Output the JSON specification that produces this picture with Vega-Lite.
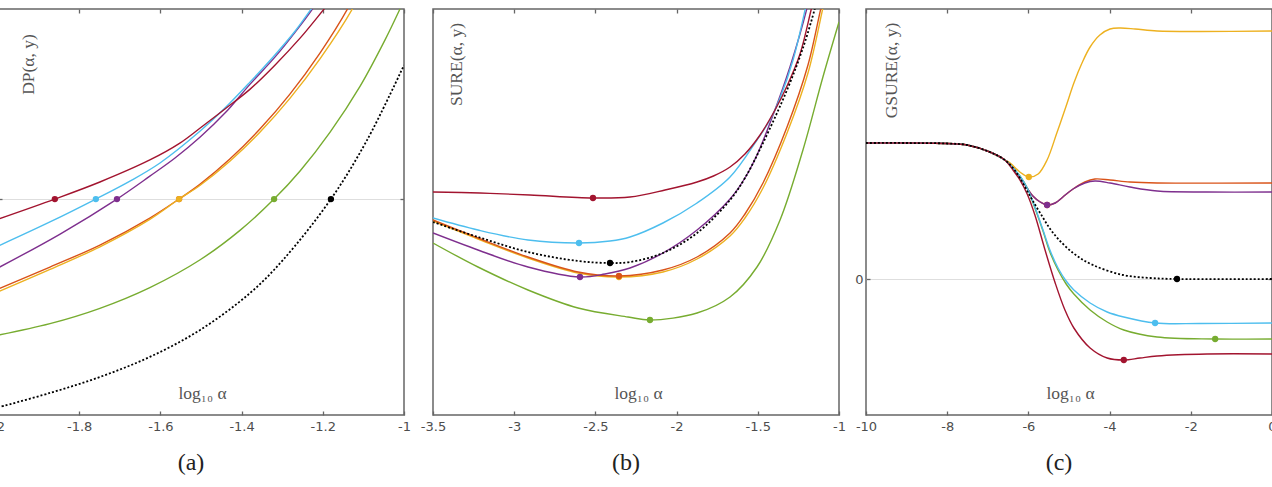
{
  "$schema": "https://vega.github.io/schema/vega-lite/v6.json",
  "autosize": {"type": "none"},
  "padding": {"left": -2, "top": 9, "right": 1274, "bottom": 478},
  "background": "white",
  "bounds": "flush",
  "spacing": 29,
  "config": {
    "view": {"stroke": "#666666", "strokeWidth": 1.5},
    "axis": {
      "domain": false,
      "grid": false,
      "tickSize": -4,
      "tickColor": "#666666",
      "tickWidth": 1.3,
      "labelFont": "DejaVu Sans",
      "labelFontSize": 13,
      "labelColor": "#4d4d4d",
      "labelPadding": 9,
      "labelFlush": false,
      "titleFont": "Liberation Serif",
      "titleFontSize": 17.5,
      "titleFontWeight": "normal",
      "titleColor": "#555555",
      "gridColor": "#dedede",
      "gridWidth": 1.2
    }
  },
  "datasets": {
    "dp": [
      {"curve": "m6", "log_alpha": -2.0, "value": 0.37},
      {"curve": "m6", "log_alpha": -1.872, "value": 0.423},
      {"curve": "m6", "log_alpha": -1.749, "value": 0.494},
      {"curve": "m6", "log_alpha": -1.626, "value": 0.59},
      {"curve": "m6", "log_alpha": -1.502, "value": 0.719},
      {"curve": "m6", "log_alpha": -1.404, "value": 0.855},
      {"curve": "m6", "log_alpha": -1.32, "value": 1.0},
      {"curve": "m6", "log_alpha": -1.256, "value": 1.13},
      {"curve": "m6", "log_alpha": -1.182, "value": 1.31},
      {"curve": "m6", "log_alpha": -1.108, "value": 1.523},
      {"curve": "m6", "log_alpha": -1.047, "value": 1.736},
      {"curve": "m6", "log_alpha": -1.01, "value": 1.88},
      {"curve": "m6", "log_alpha": -1.0, "value": 1.921},
      {"curve": "m4", "log_alpha": -2.0, "value": 0.583},
      {"curve": "m4", "log_alpha": -1.872, "value": 0.685},
      {"curve": "m4", "log_alpha": -1.749, "value": 0.787},
      {"curve": "m4", "log_alpha": -1.626, "value": 0.912},
      {"curve": "m4", "log_alpha": -1.554, "value": 1.0},
      {"curve": "m4", "log_alpha": -1.502, "value": 1.069},
      {"curve": "m4", "log_alpha": -1.429, "value": 1.185},
      {"curve": "m4", "log_alpha": -1.355, "value": 1.324},
      {"curve": "m4", "log_alpha": -1.281, "value": 1.486},
      {"curve": "m4", "log_alpha": -1.207, "value": 1.676},
      {"curve": "m4", "log_alpha": -1.138, "value": 1.884},
      {"curve": "m4", "log_alpha": -1.118, "value": 1.96},
      {"curve": "m5", "log_alpha": -2.0, "value": 0.57},
      {"curve": "m5", "log_alpha": -1.872, "value": 0.674},
      {"curve": "m5", "log_alpha": -1.749, "value": 0.779},
      {"curve": "m5", "log_alpha": -1.626, "value": 0.906},
      {"curve": "m5", "log_alpha": -1.554, "value": 1.0},
      {"curve": "m5", "log_alpha": -1.502, "value": 1.064},
      {"curve": "m5", "log_alpha": -1.429, "value": 1.175},
      {"curve": "m5", "log_alpha": -1.355, "value": 1.309},
      {"curve": "m5", "log_alpha": -1.281, "value": 1.466},
      {"curve": "m5", "log_alpha": -1.207, "value": 1.649},
      {"curve": "m5", "log_alpha": -1.126, "value": 1.884},
      {"curve": "m5", "log_alpha": -1.106, "value": 1.96},
      {"curve": "m3", "log_alpha": -2.0, "value": 0.681},
      {"curve": "m3", "log_alpha": -1.847, "value": 0.838},
      {"curve": "m3", "log_alpha": -1.707, "value": 1.0},
      {"curve": "m3", "log_alpha": -1.626, "value": 1.106},
      {"curve": "m3", "log_alpha": -1.564, "value": 1.19},
      {"curve": "m3", "log_alpha": -1.502, "value": 1.287},
      {"curve": "m3", "log_alpha": -1.441, "value": 1.398},
      {"curve": "m3", "log_alpha": -1.379, "value": 1.532},
      {"curve": "m3", "log_alpha": -1.318, "value": 1.657},
      {"curve": "m3", "log_alpha": -1.268, "value": 1.773},
      {"curve": "m3", "log_alpha": -1.224, "value": 1.884},
      {"curve": "m3", "log_alpha": -1.199, "value": 1.96},
      {"curve": "m2", "log_alpha": -2.0, "value": 0.782},
      {"curve": "m2", "log_alpha": -1.872, "value": 0.894},
      {"curve": "m2", "log_alpha": -1.759, "value": 1.0},
      {"curve": "m2", "log_alpha": -1.675, "value": 1.083},
      {"curve": "m2", "log_alpha": -1.601, "value": 1.167},
      {"curve": "m2", "log_alpha": -1.502, "value": 1.315},
      {"curve": "m2", "log_alpha": -1.441, "value": 1.421},
      {"curve": "m2", "log_alpha": -1.379, "value": 1.542},
      {"curve": "m2", "log_alpha": -1.318, "value": 1.667},
      {"curve": "m2", "log_alpha": -1.268, "value": 1.778},
      {"curve": "m2", "log_alpha": -1.227, "value": 1.884},
      {"curve": "m2", "log_alpha": -1.202, "value": 1.95},
      {"curve": "m1", "log_alpha": -2.0, "value": 0.907},
      {"curve": "m1", "log_alpha": -1.86, "value": 1.0},
      {"curve": "m1", "log_alpha": -1.749, "value": 1.079},
      {"curve": "m1", "log_alpha": -1.626, "value": 1.181},
      {"curve": "m1", "log_alpha": -1.552, "value": 1.259},
      {"curve": "m1", "log_alpha": -1.502, "value": 1.329},
      {"curve": "m1", "log_alpha": -1.441, "value": 1.417},
      {"curve": "m1", "log_alpha": -1.379, "value": 1.509},
      {"curve": "m1", "log_alpha": -1.318, "value": 1.62},
      {"curve": "m1", "log_alpha": -1.256, "value": 1.745},
      {"curve": "m1", "log_alpha": -1.195, "value": 1.884},
      {"curve": "m1", "log_alpha": -1.17, "value": 1.94},
      {"curve": "ref", "log_alpha": -2.0, "value": 0.035},
      {"curve": "ref", "log_alpha": -1.872, "value": 0.102},
      {"curve": "ref", "log_alpha": -1.749, "value": 0.176},
      {"curve": "ref", "log_alpha": -1.626, "value": 0.269},
      {"curve": "ref", "log_alpha": -1.502, "value": 0.394},
      {"curve": "ref", "log_alpha": -1.379, "value": 0.565},
      {"curve": "ref", "log_alpha": -1.298, "value": 0.718},
      {"curve": "ref", "log_alpha": -1.18, "value": 1.0},
      {"curve": "ref", "log_alpha": -1.091, "value": 1.273},
      {"curve": "ref", "log_alpha": -1.0, "value": 1.62}
    ],
    "dpOpt": [
      {"curve": "m6", "log_alpha": -1.32, "value": 1.0},
      {"curve": "m4", "log_alpha": -1.554, "value": 1.0},
      {"curve": "m5", "log_alpha": -1.554, "value": 1.0},
      {"curve": "m3", "log_alpha": -1.707, "value": 1.0},
      {"curve": "m2", "log_alpha": -1.759, "value": 1.0},
      {"curve": "m1", "log_alpha": -1.86, "value": 1.0},
      {"curve": "ref", "log_alpha": -1.18, "value": 1.0}
    ],
    "sure": [
      {"curve": "m6", "log_alpha": -3.5, "value": 1.72},
      {"curve": "m6", "log_alpha": -3.223, "value": 1.48},
      {"curve": "m6", "log_alpha": -2.915, "value": 1.25},
      {"curve": "m6", "log_alpha": -2.607, "value": 1.07},
      {"curve": "m6", "log_alpha": -2.299, "value": 0.98},
      {"curve": "m6", "log_alpha": -2.164, "value": 0.95},
      {"curve": "m6", "log_alpha": -1.874, "value": 1.02},
      {"curve": "m6", "log_alpha": -1.671, "value": 1.18},
      {"curve": "m6", "log_alpha": -1.505, "value": 1.48},
      {"curve": "m6", "log_alpha": -1.363, "value": 1.95},
      {"curve": "m6", "log_alpha": -1.222, "value": 2.65},
      {"curve": "m6", "log_alpha": -1.099, "value": 3.38},
      {"curve": "m6", "log_alpha": -1.0, "value": 3.93},
      {"curve": "m5", "log_alpha": -3.5, "value": 1.94},
      {"curve": "m5", "log_alpha": -3.223, "value": 1.76},
      {"curve": "m5", "log_alpha": -2.915, "value": 1.57},
      {"curve": "m5", "log_alpha": -2.607, "value": 1.42},
      {"curve": "m5", "log_alpha": -2.355, "value": 1.38},
      {"curve": "m5", "log_alpha": -2.084, "value": 1.43},
      {"curve": "m5", "log_alpha": -1.874, "value": 1.56},
      {"curve": "m5", "log_alpha": -1.671, "value": 1.79},
      {"curve": "m5", "log_alpha": -1.579, "value": 1.97},
      {"curve": "m5", "log_alpha": -1.468, "value": 2.27},
      {"curve": "m5", "log_alpha": -1.32, "value": 2.82},
      {"curve": "m5", "log_alpha": -1.191, "value": 3.42},
      {"curve": "m5", "log_alpha": -1.099, "value": 4.07},
      {"curve": "m5", "log_alpha": -1.08, "value": 4.2},
      {"curve": "m4", "log_alpha": -3.5, "value": 1.95},
      {"curve": "m4", "log_alpha": -3.223, "value": 1.77},
      {"curve": "m4", "log_alpha": -2.915, "value": 1.58},
      {"curve": "m4", "log_alpha": -2.607, "value": 1.43},
      {"curve": "m4", "log_alpha": -2.355, "value": 1.39},
      {"curve": "m4", "log_alpha": -2.084, "value": 1.45},
      {"curve": "m4", "log_alpha": -1.874, "value": 1.58},
      {"curve": "m4", "log_alpha": -1.671, "value": 1.82},
      {"curve": "m4", "log_alpha": -1.579, "value": 2.01},
      {"curve": "m4", "log_alpha": -1.468, "value": 2.32},
      {"curve": "m4", "log_alpha": -1.32, "value": 2.88},
      {"curve": "m4", "log_alpha": -1.191, "value": 3.5},
      {"curve": "m4", "log_alpha": -1.111, "value": 4.07},
      {"curve": "m4", "log_alpha": -1.09, "value": 4.2},
      {"curve": "m3", "log_alpha": -3.5, "value": 1.82},
      {"curve": "m3", "log_alpha": -3.223, "value": 1.65},
      {"curve": "m3", "log_alpha": -2.915, "value": 1.48},
      {"curve": "m3", "log_alpha": -2.595, "value": 1.38},
      {"curve": "m3", "log_alpha": -2.441, "value": 1.41},
      {"curve": "m3", "log_alpha": -2.287, "value": 1.47},
      {"curve": "m3", "log_alpha": -2.084, "value": 1.62},
      {"curve": "m3", "log_alpha": -1.874, "value": 1.85},
      {"curve": "m3", "log_alpha": -1.671, "value": 2.16},
      {"curve": "m3", "log_alpha": -1.579, "value": 2.37},
      {"curve": "m3", "log_alpha": -1.505, "value": 2.6},
      {"curve": "m3", "log_alpha": -1.406, "value": 3.0},
      {"curve": "m3", "log_alpha": -1.302, "value": 3.48},
      {"curve": "m3", "log_alpha": -1.197, "value": 4.07},
      {"curve": "m3", "log_alpha": -1.18, "value": 4.2},
      {"curve": "m2", "log_alpha": -3.5, "value": 1.97},
      {"curve": "m2", "log_alpha": -3.223, "value": 1.85},
      {"curve": "m2", "log_alpha": -2.915, "value": 1.75},
      {"curve": "m2", "log_alpha": -2.601, "value": 1.72},
      {"curve": "m2", "log_alpha": -2.41, "value": 1.74},
      {"curve": "m2", "log_alpha": -2.287, "value": 1.78},
      {"curve": "m2", "log_alpha": -2.084, "value": 1.92},
      {"curve": "m2", "log_alpha": -1.874, "value": 2.12},
      {"curve": "m2", "log_alpha": -1.671, "value": 2.38},
      {"curve": "m2", "log_alpha": -1.505, "value": 2.75},
      {"curve": "m2", "log_alpha": -1.425, "value": 2.95},
      {"curve": "m2", "log_alpha": -1.363, "value": 3.17},
      {"curve": "m2", "log_alpha": -1.283, "value": 3.55},
      {"curve": "m2", "log_alpha": -1.209, "value": 4.05},
      {"curve": "m2", "log_alpha": -1.19, "value": 4.2},
      {"curve": "m1", "log_alpha": -3.5, "value": 2.23},
      {"curve": "m1", "log_alpha": -3.211, "value": 2.22},
      {"curve": "m1", "log_alpha": -2.903, "value": 2.2},
      {"curve": "m1", "log_alpha": -2.515, "value": 2.17},
      {"curve": "m1", "log_alpha": -2.287, "value": 2.18},
      {"curve": "m1", "log_alpha": -2.071, "value": 2.25},
      {"curve": "m1", "log_alpha": -1.874, "value": 2.33},
      {"curve": "m1", "log_alpha": -1.773, "value": 2.39},
      {"curve": "m1", "log_alpha": -1.671, "value": 2.48},
      {"curve": "m1", "log_alpha": -1.579, "value": 2.61},
      {"curve": "m1", "log_alpha": -1.486, "value": 2.8},
      {"curve": "m1", "log_alpha": -1.394, "value": 3.05},
      {"curve": "m1", "log_alpha": -1.32, "value": 3.29},
      {"curve": "m1", "log_alpha": -1.24, "value": 3.61},
      {"curve": "m1", "log_alpha": -1.172, "value": 4.05},
      {"curve": "m1", "log_alpha": -1.15, "value": 4.2},
      {"curve": "ref", "log_alpha": -3.5, "value": 1.93},
      {"curve": "ref", "log_alpha": -3.223, "value": 1.78},
      {"curve": "ref", "log_alpha": -2.915, "value": 1.63},
      {"curve": "ref", "log_alpha": -2.607, "value": 1.54},
      {"curve": "ref", "log_alpha": -2.41, "value": 1.52},
      {"curve": "ref", "log_alpha": -2.287, "value": 1.53},
      {"curve": "ref", "log_alpha": -2.084, "value": 1.62},
      {"curve": "ref", "log_alpha": -1.874, "value": 1.82},
      {"curve": "ref", "log_alpha": -1.671, "value": 2.15},
      {"curve": "ref", "log_alpha": -1.579, "value": 2.37},
      {"curve": "ref", "log_alpha": -1.468, "value": 2.72},
      {"curve": "ref", "log_alpha": -1.32, "value": 3.25},
      {"curve": "ref", "log_alpha": -1.222, "value": 3.67},
      {"curve": "ref", "log_alpha": -1.148, "value": 4.07},
      {"curve": "ref", "log_alpha": -1.13, "value": 4.2}
    ],
    "sureOpt": [
      {"curve": "m6", "log_alpha": -2.164, "value": 0.95},
      {"curve": "m5", "log_alpha": -2.355, "value": 1.38},
      {"curve": "m4", "log_alpha": -2.355, "value": 1.39},
      {"curve": "ref", "log_alpha": -2.41, "value": 1.52},
      {"curve": "m3", "log_alpha": -2.595, "value": 1.38},
      {"curve": "m2", "log_alpha": -2.601, "value": 1.72},
      {"curve": "m1", "log_alpha": -2.515, "value": 2.17}
    ],
    "gsure": [
      {"curve": "m5", "log_alpha": -10, "value": 1.36},
      {"curve": "m5", "log_alpha": -9, "value": 1.36},
      {"curve": "m5", "log_alpha": -8, "value": 1.355},
      {"curve": "m5", "log_alpha": -7.51, "value": 1.34},
      {"curve": "m5", "log_alpha": -6.95, "value": 1.27},
      {"curve": "m5", "log_alpha": -6.58, "value": 1.19},
      {"curve": "m5", "log_alpha": -6.45, "value": 1.16},
      {"curve": "m5", "log_alpha": -6.21, "value": 1.07},
      {"curve": "m5", "log_alpha": -5.99, "value": 1.02},
      {"curve": "m5", "log_alpha": -5.76, "value": 1.05},
      {"curve": "m5", "log_alpha": -5.54, "value": 1.19},
      {"curve": "m5", "log_alpha": -5.3, "value": 1.46},
      {"curve": "m5", "log_alpha": -5.07, "value": 1.73},
      {"curve": "m5", "log_alpha": -4.88, "value": 1.96},
      {"curve": "m5", "log_alpha": -4.68, "value": 2.16},
      {"curve": "m5", "log_alpha": -4.48, "value": 2.32},
      {"curve": "m5", "log_alpha": -4.24, "value": 2.44},
      {"curve": "m5", "log_alpha": -3.99, "value": 2.5},
      {"curve": "m5", "log_alpha": -3.74, "value": 2.51},
      {"curve": "m5", "log_alpha": -3.37, "value": 2.5},
      {"curve": "m5", "log_alpha": -2.83, "value": 2.48},
      {"curve": "m5", "log_alpha": -1.77, "value": 2.475},
      {"curve": "m5", "log_alpha": 0, "value": 2.48},
      {"curve": "m4", "log_alpha": -10, "value": 1.36},
      {"curve": "m4", "log_alpha": -9, "value": 1.36},
      {"curve": "m4", "log_alpha": -8, "value": 1.355},
      {"curve": "m4", "log_alpha": -7.51, "value": 1.34},
      {"curve": "m4", "log_alpha": -6.95, "value": 1.27},
      {"curve": "m4", "log_alpha": -6.58, "value": 1.19},
      {"curve": "m4", "log_alpha": -6.38, "value": 1.11},
      {"curve": "m4", "log_alpha": -6.13, "value": 0.97},
      {"curve": "m4", "log_alpha": -5.89, "value": 0.83},
      {"curve": "m4", "log_alpha": -5.71, "value": 0.77},
      {"curve": "m4", "log_alpha": -5.54, "value": 0.74},
      {"curve": "m4", "log_alpha": -5.34, "value": 0.76},
      {"curve": "m4", "log_alpha": -5.15, "value": 0.82},
      {"curve": "m4", "log_alpha": -4.9, "value": 0.9},
      {"curve": "m4", "log_alpha": -4.61, "value": 0.97},
      {"curve": "m4", "log_alpha": -4.36, "value": 1.0},
      {"curve": "m4", "log_alpha": -3.99, "value": 0.99},
      {"curve": "m4", "log_alpha": -3.5, "value": 0.97},
      {"curve": "m4", "log_alpha": -2.83, "value": 0.96},
      {"curve": "m4", "log_alpha": 0, "value": 0.96},
      {"curve": "m3", "log_alpha": -10, "value": 1.36},
      {"curve": "m3", "log_alpha": -9, "value": 1.36},
      {"curve": "m3", "log_alpha": -8, "value": 1.355},
      {"curve": "m3", "log_alpha": -7.51, "value": 1.34},
      {"curve": "m3", "log_alpha": -6.95, "value": 1.27},
      {"curve": "m3", "log_alpha": -6.58, "value": 1.19},
      {"curve": "m3", "log_alpha": -6.38, "value": 1.11},
      {"curve": "m3", "log_alpha": -6.13, "value": 0.97},
      {"curve": "m3", "log_alpha": -5.89, "value": 0.83},
      {"curve": "m3", "log_alpha": -5.71, "value": 0.77},
      {"curve": "m3", "log_alpha": -5.54, "value": 0.74},
      {"curve": "m3", "log_alpha": -5.34, "value": 0.76},
      {"curve": "m3", "log_alpha": -5.15, "value": 0.82},
      {"curve": "m3", "log_alpha": -4.9, "value": 0.9},
      {"curve": "m3", "log_alpha": -4.61, "value": 0.96},
      {"curve": "m3", "log_alpha": -4.36, "value": 0.98},
      {"curve": "m3", "log_alpha": -3.99, "value": 0.96},
      {"curve": "m3", "log_alpha": -3.5, "value": 0.92},
      {"curve": "m3", "log_alpha": -2.83, "value": 0.88},
      {"curve": "m3", "log_alpha": -1.6, "value": 0.87},
      {"curve": "m3", "log_alpha": 0, "value": 0.87},
      {"curve": "m6", "log_alpha": -10, "value": 1.36},
      {"curve": "m6", "log_alpha": -9, "value": 1.36},
      {"curve": "m6", "log_alpha": -8, "value": 1.355},
      {"curve": "m6", "log_alpha": -7.51, "value": 1.34},
      {"curve": "m6", "log_alpha": -6.95, "value": 1.27},
      {"curve": "m6", "log_alpha": -6.58, "value": 1.19},
      {"curve": "m6", "log_alpha": -6.38, "value": 1.11},
      {"curve": "m6", "log_alpha": -6.21, "value": 1.03},
      {"curve": "m6", "log_alpha": -6.03, "value": 0.91},
      {"curve": "m6", "log_alpha": -5.84, "value": 0.71},
      {"curve": "m6", "log_alpha": -5.64, "value": 0.48},
      {"curve": "m6", "log_alpha": -5.47, "value": 0.27},
      {"curve": "m6", "log_alpha": -5.27, "value": 0.09},
      {"curve": "m6", "log_alpha": -5.07, "value": -0.05},
      {"curve": "m6", "log_alpha": -4.88, "value": -0.15},
      {"curve": "m6", "log_alpha": -4.48, "value": -0.31},
      {"curve": "m6", "log_alpha": -4.06, "value": -0.43},
      {"curve": "m6", "log_alpha": -3.65, "value": -0.51},
      {"curve": "m6", "log_alpha": -2.83, "value": -0.58},
      {"curve": "m6", "log_alpha": -1.4, "value": -0.6},
      {"curve": "m6", "log_alpha": 0, "value": -0.6},
      {"curve": "m2", "log_alpha": -10, "value": 1.36},
      {"curve": "m2", "log_alpha": -9, "value": 1.36},
      {"curve": "m2", "log_alpha": -8, "value": 1.355},
      {"curve": "m2", "log_alpha": -7.51, "value": 1.34},
      {"curve": "m2", "log_alpha": -6.95, "value": 1.27},
      {"curve": "m2", "log_alpha": -6.58, "value": 1.19},
      {"curve": "m2", "log_alpha": -6.38, "value": 1.11},
      {"curve": "m2", "log_alpha": -6.21, "value": 1.03},
      {"curve": "m2", "log_alpha": -6.03, "value": 0.91},
      {"curve": "m2", "log_alpha": -5.84, "value": 0.72},
      {"curve": "m2", "log_alpha": -5.64, "value": 0.49},
      {"curve": "m2", "log_alpha": -5.47, "value": 0.29},
      {"curve": "m2", "log_alpha": -5.27, "value": 0.11},
      {"curve": "m2", "log_alpha": -5.07, "value": -0.02},
      {"curve": "m2", "log_alpha": -4.88, "value": -0.11},
      {"curve": "m2", "log_alpha": -4.48, "value": -0.24},
      {"curve": "m2", "log_alpha": -4.06, "value": -0.33},
      {"curve": "m2", "log_alpha": -3.65, "value": -0.38},
      {"curve": "m2", "log_alpha": -2.88, "value": -0.44},
      {"curve": "m2", "log_alpha": -1.77, "value": -0.445},
      {"curve": "m2", "log_alpha": 0, "value": -0.44},
      {"curve": "m1", "log_alpha": -10, "value": 1.36},
      {"curve": "m1", "log_alpha": -9, "value": 1.36},
      {"curve": "m1", "log_alpha": -8, "value": 1.355},
      {"curve": "m1", "log_alpha": -7.51, "value": 1.34},
      {"curve": "m1", "log_alpha": -6.95, "value": 1.27},
      {"curve": "m1", "log_alpha": -6.58, "value": 1.19},
      {"curve": "m1", "log_alpha": -6.38, "value": 1.09},
      {"curve": "m1", "log_alpha": -6.21, "value": 0.99},
      {"curve": "m1", "log_alpha": -6.03, "value": 0.85},
      {"curve": "m1", "log_alpha": -5.84, "value": 0.64},
      {"curve": "m1", "log_alpha": -5.59, "value": 0.29},
      {"curve": "m1", "log_alpha": -5.34, "value": -0.04},
      {"curve": "m1", "log_alpha": -5.1, "value": -0.31},
      {"curve": "m1", "log_alpha": -4.88, "value": -0.49},
      {"curve": "m1", "log_alpha": -4.48, "value": -0.69},
      {"curve": "m1", "log_alpha": -4.06, "value": -0.79},
      {"curve": "m1", "log_alpha": -3.65, "value": -0.81},
      {"curve": "m1", "log_alpha": -3.25, "value": -0.79},
      {"curve": "m1", "log_alpha": -2.83, "value": -0.77},
      {"curve": "m1", "log_alpha": -1.6, "value": -0.75},
      {"curve": "m1", "log_alpha": 0, "value": -0.75},
      {"curve": "ref", "log_alpha": -10, "value": 1.36},
      {"curve": "ref", "log_alpha": -9, "value": 1.36},
      {"curve": "ref", "log_alpha": -8, "value": 1.355},
      {"curve": "ref", "log_alpha": -7.51, "value": 1.34},
      {"curve": "ref", "log_alpha": -6.95, "value": 1.27},
      {"curve": "ref", "log_alpha": -6.58, "value": 1.19},
      {"curve": "ref", "log_alpha": -6.38, "value": 1.11},
      {"curve": "ref", "log_alpha": -6.21, "value": 1.01},
      {"curve": "ref", "log_alpha": -5.96, "value": 0.83},
      {"curve": "ref", "log_alpha": -5.71, "value": 0.66},
      {"curve": "ref", "log_alpha": -5.39, "value": 0.46},
      {"curve": "ref", "log_alpha": -4.9, "value": 0.26},
      {"curve": "ref", "log_alpha": -4.41, "value": 0.14},
      {"curve": "ref", "log_alpha": -3.67, "value": 0.04},
      {"curve": "ref", "log_alpha": -3.0, "value": 0.01},
      {"curve": "ref", "log_alpha": -2.34, "value": 0},
      {"curve": "ref", "log_alpha": 0, "value": 0}
    ],
    "gsureOpt": [
      {"curve": "m4", "log_alpha": -5.54, "value": 0.74},
      {"curve": "m3", "log_alpha": -5.54, "value": 0.74},
      {"curve": "m5", "log_alpha": -5.99, "value": 1.02},
      {"curve": "ref", "log_alpha": -2.34, "value": 0},
      {"curve": "m2", "log_alpha": -2.88, "value": -0.44},
      {"curve": "m6", "log_alpha": -1.4, "value": -0.6},
      {"curve": "m1", "log_alpha": -3.65, "value": -0.81}
    ]
  },
  "hconcat": [
    {
      "width": 406,
      "height": 406,
      "title": {"text": "(a)", "orient": "bottom", "anchor": "middle", "dx": -10, "offset": 18, "baseline": "top", "font": "Liberation Serif", "fontSize": 24, "fontWeight": "normal", "color": "#222222"},
      "resolve": {"axis": {"x": "independent", "y": "independent"}},
      "layer": [
        {
          "data": {"name": "dp"},
          "transform": [{"filter": "datum.curve !== 'ref'"}],
          "mark": {"type": "line", "interpolate": "catmull-rom", "strokeWidth": 1.4, "clip": true},
          "encoding": {
            "x": {"field": "log_alpha", "type": "quantitative", "scale": {"domain": [-2, -1], "nice": false, "zero": false},
                  "axis": {"orient": "bottom", "values": [-2, -1.8, -1.6, -1.4, -1.2, -1], "labelExpr": "toString(datum.value)", "title": "log₁₀ α", "titleX": 204, "titleY": -22, "titleAlign": "center", "titleBaseline": "middle"}},
            "y": {"field": "value", "type": "quantitative", "scale": {"domain": [0, 1.88], "nice": false, "zero": false},
                  "axis": {"orient": "left", "values": [1], "labels": false, "grid": true, "title": "DP(α, y)", "titleAngle": 270, "titleX": 30, "titleY": 55, "titleAlign": "center", "titleBaseline": "middle"}},
            "color": {"field": "curve", "type": "nominal", "legend": null,
                      "scale": {"domain": ["m1", "m2", "m3", "m4", "m5", "m6", "ref"], "range": ["#A2142F", "#4DBEEE", "#7E2F8E", "#D95319", "#EDB120", "#77AC30", "#000000"]}}
          }
        },
        {
          "data": {"name": "dp"},
          "transform": [{"filter": "datum.curve === 'ref'"}],
          "mark": {"type": "line", "interpolate": "catmull-rom", "color": "#000000", "strokeWidth": 1.8, "strokeDash": [2, 2], "clip": true},
          "encoding": {
            "x": {"field": "log_alpha", "type": "quantitative", "axis": null},
            "y": {"field": "value", "type": "quantitative", "axis": null}
          }
        },
        {
          "data": {"name": "dpOpt"},
          "mark": {"type": "point", "filled": true, "size": 40, "opacity": 1},
          "encoding": {
            "x": {"field": "log_alpha", "type": "quantitative", "axis": {"orient": "top", "values": [-2, -1.8, -1.6, -1.4, -1.2, -1], "labels": false, "title": null}},
            "y": {"field": "value", "type": "quantitative", "axis": {"orient": "right", "values": [1], "labels": false, "title": null}},
            "color": {"field": "curve", "type": "nominal", "legend": null,
                      "scale": {"domain": ["m1", "m2", "m3", "m4", "m5", "m6", "ref"], "range": ["#A2142F", "#4DBEEE", "#7E2F8E", "#D95319", "#EDB120", "#77AC30", "#000000"]}}
          }
        }
      ]
    },
    {
      "spacing": 27,
      "bounds": "flush",
      "hconcat": [
        {
          "width": 406,
          "height": 406,
          "title": {"text": "(b)", "orient": "bottom", "anchor": "middle", "dx": -10, "offset": 18, "baseline": "top", "font": "Liberation Serif", "fontSize": 24, "fontWeight": "normal", "color": "#222222"},
          "resolve": {"axis": {"x": "independent", "y": "independent"}},
          "layer": [
            {
              "data": {"name": "sure"},
              "transform": [{"filter": "datum.curve !== 'ref'"}],
              "mark": {"type": "line", "interpolate": "catmull-rom", "strokeWidth": 1.4, "clip": true},
              "encoding": {
                "x": {"field": "log_alpha", "type": "quantitative", "scale": {"domain": [-3.5, -1], "nice": false, "zero": false},
                      "axis": {"orient": "bottom", "values": [-3.5, -3, -2.5, -2, -1.5, -1], "labelExpr": "toString(datum.value)", "title": "log₁₀ α", "titleX": 205, "titleY": -22, "titleAlign": "center", "titleBaseline": "middle"}},
                "y": {"field": "value", "type": "quantitative", "scale": {"domain": [0, 4.06], "nice": false, "zero": false},
                      "axis": {"orient": "left", "values": [], "labels": false, "title": "SURE(α, y)", "titleAngle": 270, "titleX": 23, "titleY": 55, "titleAlign": "center", "titleBaseline": "middle"}},
                "color": {"field": "curve", "type": "nominal", "legend": null,
                          "scale": {"domain": ["m1", "m2", "m3", "m4", "m5", "m6", "ref"], "range": ["#A2142F", "#4DBEEE", "#7E2F8E", "#D95319", "#EDB120", "#77AC30", "#000000"]}}
              }
            },
            {
              "data": {"name": "sure"},
              "transform": [{"filter": "datum.curve === 'ref'"}],
              "mark": {"type": "line", "interpolate": "catmull-rom", "color": "#000000", "strokeWidth": 1.8, "strokeDash": [2, 2], "clip": true},
              "encoding": {
                "x": {"field": "log_alpha", "type": "quantitative", "axis": null},
                "y": {"field": "value", "type": "quantitative", "axis": null}
              }
            },
            {
              "data": {"name": "sureOpt"},
              "mark": {"type": "point", "filled": true, "size": 40, "opacity": 1},
              "encoding": {
                "x": {"field": "log_alpha", "type": "quantitative", "axis": {"orient": "top", "values": [-3.5, -3, -2.5, -2, -1.5, -1], "labels": false, "title": null}},
                "y": {"field": "value", "type": "quantitative", "axis": null},
                "color": {"field": "curve", "type": "nominal", "legend": null,
                          "scale": {"domain": ["m1", "m2", "m3", "m4", "m5", "m6", "ref"], "range": ["#A2142F", "#4DBEEE", "#7E2F8E", "#D95319", "#EDB120", "#77AC30", "#000000"]}}
              }
            }
          ]
        },
        {
          "width": 406,
          "height": 406,
          "title": {"text": "(c)", "orient": "bottom", "anchor": "middle", "dx": -10, "offset": 18, "baseline": "top", "font": "Liberation Serif", "fontSize": 24, "fontWeight": "normal", "color": "#222222"},
          "resolve": {"axis": {"x": "independent", "y": "independent"}},
          "layer": [
            {
              "data": {"name": "gsure"},
              "transform": [{"filter": "datum.curve !== 'ref'"}],
              "mark": {"type": "line", "interpolate": "catmull-rom", "strokeWidth": 1.4, "clip": true},
              "encoding": {
                "x": {"field": "log_alpha", "type": "quantitative", "scale": {"domain": [-10, 0], "nice": false, "zero": false},
                      "axis": {"orient": "bottom", "values": [-10, -8, -6, -4, -2, 0], "labelExpr": "toString(datum.value)", "title": "log₁₀ α", "titleX": 204, "titleY": -22, "titleAlign": "center", "titleBaseline": "middle"}},
                "y": {"field": "value", "type": "quantitative", "scale": {"domain": [-1.36, 2.7], "nice": false, "zero": false},
                      "axis": {"orient": "left", "values": [0], "labelExpr": "toString(datum.value)", "labelPadding": 7, "grid": true, "title": "GSURE(α, y)", "titleAngle": 270, "titleX": 25, "titleY": 61, "titleAlign": "center", "titleBaseline": "middle"}},
                "color": {"field": "curve", "type": "nominal", "legend": null,
                          "scale": {"domain": ["m1", "m2", "m3", "m4", "m5", "m6", "ref"], "range": ["#A2142F", "#4DBEEE", "#7E2F8E", "#D95319", "#EDB120", "#77AC30", "#000000"]}}
              }
            },
            {
              "data": {"name": "gsure"},
              "transform": [{"filter": "datum.curve === 'ref'"}],
              "mark": {"type": "line", "interpolate": "catmull-rom", "color": "#000000", "strokeWidth": 1.8, "strokeDash": [2, 2], "clip": true},
              "encoding": {
                "x": {"field": "log_alpha", "type": "quantitative", "axis": null},
                "y": {"field": "value", "type": "quantitative", "axis": null}
              }
            },
            {
              "data": {"name": "gsureOpt"},
              "mark": {"type": "point", "filled": true, "size": 40, "opacity": 1},
              "encoding": {
                "x": {"field": "log_alpha", "type": "quantitative", "axis": {"orient": "top", "values": [-10, -8, -6, -4, -2, 0], "labels": false, "title": null}},
                "y": {"field": "value", "type": "quantitative", "axis": {"orient": "right", "values": [0], "labels": false, "title": null}},
                "color": {"field": "curve", "type": "nominal", "legend": null,
                          "scale": {"domain": ["m1", "m2", "m3", "m4", "m5", "m6", "ref"], "range": ["#A2142F", "#4DBEEE", "#7E2F8E", "#D95319", "#EDB120", "#77AC30", "#000000"]}}
              }
            }
          ]
        }
      ]
    }
  ]
}
